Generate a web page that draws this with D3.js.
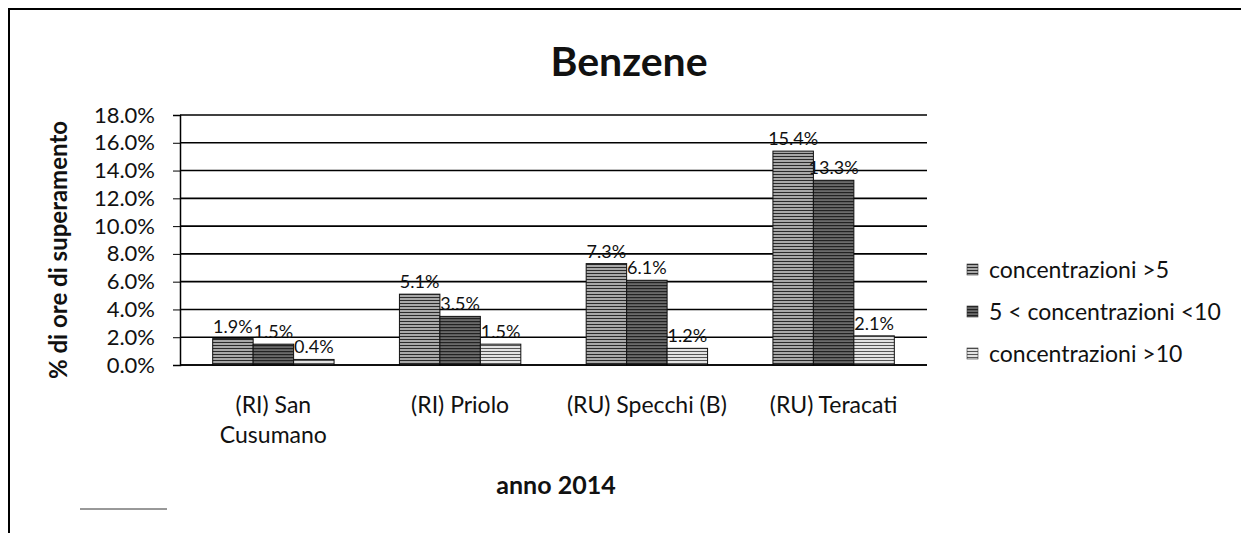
<!DOCTYPE html>
<html lang="it">
<head>
<meta charset="UTF-8">
<script src="https://cdn.jsdelivr.net/npm/d3@7"></script>
<style>
  body { margin: 0; background: #fff; }
  text { font-family: Lato, "Open Sans", sans-serif; fill: #111; }
</style>
</head>
<body>
<svg id="chart" width="1241" height="533"></svg>
<script>
  // data
  const stations = ["(RI) San Cusumano", "(RI) Priolo", "(RU) Specchi (B)", "(RU) Teracati"];
  const stationLines = [["(RI) San", "Cusumano"], ["(RI) Priolo"], ["(RU) Specchi (B)"], ["(RU) Teracati"]];
  const seriesNames = ["concentrazioni >5", "5 < concentrazioni <10", "concentrazioni >10"];
  const over5 = [1.9, 5.1, 7.3, 15.4];
  const between5and10 = [1.5, 3.5, 6.1, 13.3];
  const over10 = [0.4, 1.5, 1.2, 2.1];
  const yTicks = [0, 2, 4, 6, 8, 10, 12, 14, 16, 18];

  const allSeries = [over5, between5and10, over10];

  const svg = d3.select("#chart");
  const plotLeft = 180, plotRight = 927, plotTop = 115, plotBottom = 365;

  // patterns to look like the scanned hatch fills
  const defs = svg.append("defs");
  function stripes(id, bg, line, step, lw) {
    const p = defs.append("pattern").attr("id", id).attr("patternUnits", "userSpaceOnUse")
      .attr("width", 6).attr("height", step);
    p.append("rect").attr("width", 6).attr("height", step).attr("fill", bg);
    p.append("rect").attr("y", 0).attr("width", 6).attr("height", lw).attr("fill", line);
    return "url(#" + id + ")";
  }
  const fills = [
    stripes("p1", "#a8a8a8", "#2a2a2a", 3, 1),
    stripes("p2", "#6a6a6a", "#222", 3, 1.2),
    stripes("p3", "#e2e2e2", "#555", 3, 1)
  ];

  const x = d3.scaleBand().domain(stations).range([plotLeft, plotRight]).paddingInner(0.35).paddingOuter(0.175);
  const xs = d3.scaleBand().domain(d3.range(3)).range([0, x.bandwidth()]);
  const y = d3.scaleLinear().domain([0, 18]).range([plotBottom, plotTop]);

  // outer frame
  svg.append("path").attr("d", "M9,1000 L9,9 L1241,9").attr("fill", "none").attr("stroke", "#000").attr("stroke-width", 2);
  svg.append("line").attr("x1", 80).attr("x2", 167).attr("y1", 509).attr("y2", 509).attr("stroke", "#333").attr("stroke-width", 1);

  // title
  svg.append("text").attr("x", 629).attr("y", 76).attr("text-anchor", "middle")
    .style("font-size", "41px").style("font-weight", "bold").text("Benzene");

  // grid
  svg.append("g").selectAll("line").data(yTicks).join("line")
    .attr("x1", plotLeft).attr("x2", plotRight).attr("y1", d => y(d)).attr("y2", d => y(d))
    .attr("stroke", "#000").attr("stroke-width", 1.6);

  // y axis
  const yAxis = svg.append("g").attr("transform", `translate(${plotLeft},0)`)
    .call(d3.axisLeft(y).tickValues(yTicks).tickSize(7).tickPadding(18).tickFormat(d => d.toFixed(1) + "%"));
  yAxis.select(".domain").attr("stroke", "#000").attr("stroke-width", 1.5);
  yAxis.selectAll(".tick line").attr("stroke", "#000");
  yAxis.selectAll("text").style("font-size", "22px").attr("fill", "#111").style("font-family", "Lato, sans-serif");

  svg.append("text").attr("transform", "translate(67,250) rotate(-90)").attr("text-anchor", "middle")
    .style("font-size", "24px").style("font-weight", "bold").text("% di ore di superamento");

  // bars
  const groups = svg.append("g").selectAll("g").data(stations).join("g")
    .attr("transform", d => `translate(${x(d)},0)`);
  groups.each(function (st, i) {
    const g = d3.select(this);
    allSeries.forEach((s, k) => {
      g.append("rect").attr("x", xs(k)).attr("width", xs.bandwidth())
        .attr("y", y(s[i])).attr("height", y(0) - y(s[i]))
        .attr("fill", fills[k]).attr("stroke", "#111").attr("stroke-width", 1);
      g.append("text").attr("x", xs(k) + xs.bandwidth() / 2).attr("y", y(s[i]) - 6)
        .attr("text-anchor", "middle").style("font-size", "18px").text(s[i].toFixed(1) + "%");
    });
  });

  // bottom axis line
  svg.append("line").attr("x1", plotLeft).attr("x2", plotRight).attr("y1", plotBottom).attr("y2", plotBottom)
    .attr("stroke", "#000").attr("stroke-width", 1.6);

  // category labels
  stations.forEach((st, i) => {
    const t = svg.append("text").attr("x", x(st) + x.bandwidth() / 2).attr("y", 413)
      .attr("text-anchor", "middle").style("font-size", "23px");
    stationLines[i].forEach((ln, j) => {
      t.append("tspan").attr("x", x(st) + x.bandwidth() / 2).attr("dy", j === 0 ? 0 : 30).text(ln);
    });
  });

  svg.append("text").attr("x", 556).attr("y", 494).attr("text-anchor", "middle")
    .style("font-size", "25px").style("font-weight", "bold").text("anno 2014");

  // legend
  const leg = svg.append("g").selectAll("g").data(seriesNames).join("g")
    .attr("transform", (d, i) => `translate(967,${270 + i * 42})`);
  leg.append("rect").attr("x", 0).attr("y", -6).attr("width", 11).attr("height", 11)
    .attr("fill", (d, i) => fills[i]).attr("stroke", "#333").attr("stroke-width", 0.6);
  leg.append("text").attr("x", 22).attr("y", 8).style("font-size", "23px").text(d => d);
</script>
</body>
</html>
